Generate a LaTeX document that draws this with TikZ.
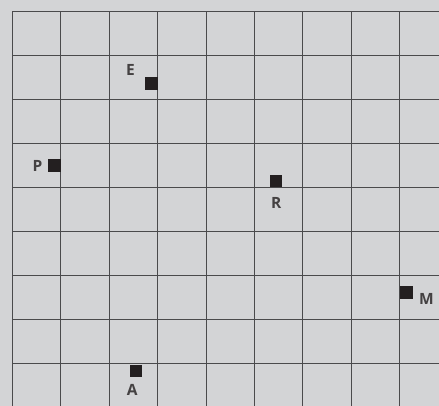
\documentclass[tikz,border=0pt]{standalone}
\usepackage{fontspec}
\setsansfont{Open Sans}
\usetikzlibrary{positioning}
\definecolor{paper}{HTML}{D3D4D6}
\definecolor{rule}{HTML}{4A4A4C}
\definecolor{ink}{HTML}{231F20}

\tikzset{
	spot/.style={rectangle, fill=ink, draw=none, inner sep=0pt, minimum width=12.5pt, minimum height=12.5pt},
	tag/.style={inner sep=0pt, text=ink!85, font=\sffamily\bfseries\fontsize{15.5}{15.5}\selectfont}
}

\begin{document}
\begin{tikzpicture}[x=1pt, y=1pt]
		\fill[paper] (0,0) rectangle (439,406);
		\useasboundingbox (0,0) rectangle (439,406);
		% grid
		\foreach \x in {12.5,60.5,109.5,157.5,206.5,254.5,302.5,351.5,399.5}
			\draw[rule, line width=1.2pt] (\x,0) -- (\x,394.5);
		\foreach \y in {394.5,350.5,306.5,262.5,218.5,174.5,130.5,86.5,42.5}
			\draw[rule, line width=1.2pt] (12.5,\y) -- (439,\y);

		\node[spot] (e) at (151.5,322.5) {};
		\node[spot] (p) at (54.5,240.5) {};
		\node[spot] (r) at (276.2,225) {};
		\node[spot] (m) at (406.5,113.7) {};
		\node[spot] (a) at (136.2,35) {};

		\node[tag, above left=1.5pt and 10pt of e] (labE) {E};
		\node[tag, left=5.5pt of p] (labP) {P};
		\node[tag, below=9.5pt of r] (labR) {R};
		\node[tag, right=6pt of m, yshift=-6.5pt] (labM) {M};
		\node[tag, below=6.5pt of a, xshift=-4pt] (labA) {A};
	\end{tikzpicture}
\end{document}
